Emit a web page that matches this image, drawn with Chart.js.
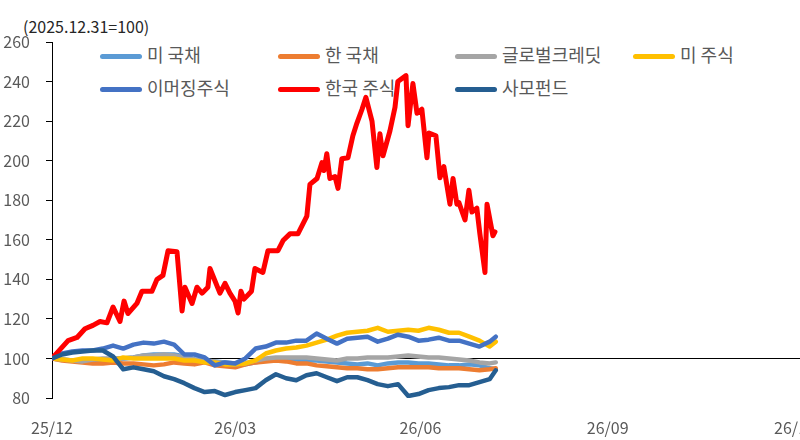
<!DOCTYPE html>
<html>
<head>
<meta charset="utf-8">
<script src="https://cdn.jsdelivr.net/npm/chart.js@4.4.1/dist/chart.umd.min.js"></script>
<style>
  body { margin: 0; width: 800px; height: 440px; overflow: hidden; background: #fff; position: relative; }
  #note { position: absolute; left: 23px; top: 14px; font: 16px "Noto Sans CJK KR", "Noto Sans", sans-serif; color: #262626; }
  #legend { position: absolute; left: 0; top: 0; width: 800px; height: 110px; font: 18px "Noto Sans CJK KR", sans-serif; color: #595959; }
  .item { position: absolute; height: 24px; line-height: 24px; white-space: nowrap; }
  .item i { display: inline-block; width: 42px; height: 5px; border-radius: 3px; vertical-align: middle; margin-right: 5px; position: relative; top: -1px; }
  #wrap { position: absolute; left: 0; top: 0; }
</style>
</head>
<body>
<div id="note">(2025.12.31=100)</div>
<div id="legend"></div>
<div id="wrap"><canvas id="chart" width="840" height="440"></canvas></div>
<script>
// x = days since 2025-12-31
const days = [0, 5, 10, 15, 20, 25, 30, 35, 40, 45, 50, 55, 60, 65, 70, 75, 80, 85, 90, 95,
  100, 105, 110, 115, 120, 125, 130, 135, 140, 145, 150, 155, 160, 165, 170, 175, 180, 185,
  190, 195, 200, 205, 210, 215, 218];

const usTsy = [100, 99.5, 99, 99, 99, 99.5, 100, 100, 100.5, 101.5, 102, 102, 102, 101, 99.5,
  99, 98.5, 98, 97.5, 97, 98, 99, 99.5, 99.5, 99.5, 99, 99, 98.5, 98, 97.5, 97, 97.5, 96.5,
  97.5, 98, 98, 97.5, 97.5, 97, 96.5, 96.5, 97, 96.5, 95, 94.5];

const krTsy = [100, 99, 98.5, 98, 97.5, 97.5, 98, 97.5, 97.5, 97, 96.5, 97, 98, 97.5, 97, 98,
  96.5, 96, 95.5, 97, 98, 98.5, 99, 98.5, 97.5, 97.5, 96.5, 96, 95.5, 95, 95, 94.5, 94.5, 95,
  95.5, 95.5, 95.5, 95.5, 95, 95, 95, 94.5, 94, 94.5, 95];

const glCredit = [100, 99.5, 99, 98.5, 99.5, 100, 100, 100, 100.5, 101.5, 101.5, 102, 101.5,
  100.5, 99.5, 99, 98.5, 97.5, 97, 97.5, 99, 100, 100.5, 100.5, 100.5, 100.5, 100, 99.5, 99,
  100, 100, 100.5, 100.5, 100.5, 101, 101.5, 101, 100.5, 100.5, 100, 99.5, 99, 98, 97.5, 98];

const usEq = [100, 99.5, 99, 100, 100, 99.5, 99, 100.5, 100, 100, 100, 100, 100, 99, 99, 98,
  98, 97, 97, 97.5, 99, 102.5, 104, 105, 105.5, 106.5, 108, 109.5, 111.5, 113, 113.5, 114,
  115.5, 113.5, 114, 114.5, 114, 115.5, 114.5, 113, 113, 111, 109, 106, 108.5];

const emEq = [100, 102.5, 103.5, 104, 104, 105, 106.5, 105, 107, 108, 107.5, 108.5, 107, 102,
  102, 100.5, 96.5, 98, 97.5, 100, 105, 106, 108, 108, 109, 109, 112.6, 110, 107.5, 110, 110.5,
  111, 108.5, 110, 112, 111, 109, 109.5, 110.5, 109, 109, 107.5, 106, 108.5, 111];

const peFund = [100, 102, 103, 103.5, 104, 104, 101, 94.5, 95.5, 94.5, 93.5, 91, 89.5, 87.5,
  85, 83, 83.5, 81.5, 83, 84, 85, 89, 92, 90, 89, 91.5, 92.5, 90.5, 88.5, 90.5, 90.5, 89, 87,
  86, 87, 81, 82, 84, 85, 85.5, 86.5, 86.5, 88, 89.5, 94];

// 한국 주식 moves a lot, so it keeps its own finer set of dates
const krDays = [0, 7.9, 12.3, 16.2, 20.1, 23.6, 27, 30, 33.4, 35.4, 37.3, 41.7, 44.2, 49.1,
  51.6, 54.5, 57, 61.4, 63.9, 65.3, 68.8, 71.2, 73.7, 76.6, 77.6, 82.5, 85, 87.4, 89.9, 91.4,
  92.8, 94.3, 98, 99.7, 103.6, 106.1, 111, 113.5, 116.9, 120.8, 125.2, 126.7, 130.2, 132.6,
  133.6, 135, 136.5, 139, 140.5, 142.4, 145.4, 147.8, 149.8, 152.3, 154.2, 157.2, 159.6,
  161.1, 162.6, 166, 168.5, 169.9, 173.9, 174.9, 177.3, 179.3, 181.7, 184.2, 185.2, 188.6,
  190.6, 192.5, 195.5, 197, 198.9, 199.9, 202.9, 204.8, 206.3, 208.7, 210.2, 212.7, 213.7,
  216.6, 217.6];
const krEq = [100, 109, 110.6, 115, 116.7, 118.7, 118, 126, 118.7, 129, 122.7, 127.8, 134, 134,
  140, 142, 154.5, 154, 124, 136, 127.8, 136, 133, 136, 145.5, 133, 138, 133, 129, 123,
  134, 130, 134, 145.5, 143.5, 154.5, 154.5, 159.6, 163, 163, 172, 188, 191, 199,
  195, 203.5, 191, 192, 186, 201, 201.5, 212.6, 219, 226, 232, 220, 196.5,
  213.6, 202.5, 215, 227, 240, 243, 217.7, 239, 224, 226, 201.5, 214, 212.6,
  191.4, 197, 178, 191, 178, 178.8, 170, 185, 174, 176, 163, 143.5, 178,
  162, 164];

const tickDays = [0, 90, 181, 273, 365];
const tickLabels = ["25/12", "26/03", "26/06", "26/09", "26/12"];

const names = ["미 국채", "한 국채", "글로벌크레딧", "미 주식", "이머징주식", "한국 주식", "사모펀드"];
const colors = ["#5B9BD5", "#ED7D31", "#A5A5A5", "#FFC000", "#4472C4", "#FF0000", "#255E91"];

const pts = (xs, ys) => xs.map((x, i) => ({ x: x, y: ys[i] }));
const series = [
  pts(days, usTsy), pts(days, krTsy), pts(days, glCredit), pts(days, usEq),
  pts(days, emEq), pts(krDays, krEq), pts(days, peFund)
];

// legend, drawn behind the canvas like the original
const legendPos = [[100, 42], [278, 42], [455, 42], [633, 42], [100, 75], [278, 75], [455, 75]];
const legend = document.getElementById("legend");
names.forEach((n, i) => {
  const d = document.createElement("div");
  d.className = "item";
  d.style.left = legendPos[i][0] + "px";
  d.style.top = legendPos[i][1] + "px";
  d.innerHTML = `<i style="background:${colors[i]}"></i>${n}`;
  legend.appendChild(d);
});

// horizontal axis crosses at 100
const baseLine = {
  id: "baseLine",
  beforeDatasetsDraw(chart) {
    const { ctx, chartArea, scales } = chart;
    const y = Math.round(scales.y.getPixelForValue(100)) + 0.5;
    ctx.save();
    ctx.strokeStyle = "#000";
    ctx.lineWidth = 1;
    ctx.beginPath();
    ctx.moveTo(chartArea.left, y);
    ctx.lineTo(chartArea.right + 10, y);
    ctx.stroke();
    ctx.restore();
  }
};

new Chart(document.getElementById("chart"), {
  type: "line",
  data: {
    datasets: series.map((s, i) => ({
      label: names[i],
      data: s,
      borderColor: colors[i],
      borderWidth: i === 5 ? 5 : 4.5,
      pointRadius: 0,
      tension: 0,
      fill: false,
      borderJoinStyle: "round",
      borderCapStyle: "round",
      order: names.length - i
    }))
  },
  options: {
    responsive: false,
    animation: false,
    layout: { padding: { top: 42, right: 45, left: 0, bottom: 0 } },
    plugins: { legend: { display: false }, tooltip: { enabled: false } },
    scales: {
      x: {
        type: "linear",
        min: 0,
        max: 365,
        afterBuildTicks: (scale) => { scale.ticks = tickDays.map(v => ({ value: v })); },
        afterFit: (scale) => { scale.height = 42; },
        grid: { display: false },
        border: { display: false },
        ticks: {
          padding: 12,
          maxRotation: 0,
          autoSkip: false,
          color: "#595959",
          font: { family: "Noto Sans CJK KR", size: 16 },
          callback: (v) => tickLabels[tickDays.indexOf(v)]
        }
      },
      y: {
        min: 80,
        max: 260,
        afterFit: (scale) => { scale.width = 52; },
        ticks: {
          stepSize: 20,
          padding: 16,
          color: "#595959",
          font: { family: "Noto Sans CJK KR", size: 16 }
        },
        grid: { drawOnChartArea: false, drawTicks: true, tickLength: 6, color: "#000" },
        border: { display: true, color: "#000", width: 1 }
      }
    }
  },
  plugins: [baseLine]
});
</script>
</body>
</html>
